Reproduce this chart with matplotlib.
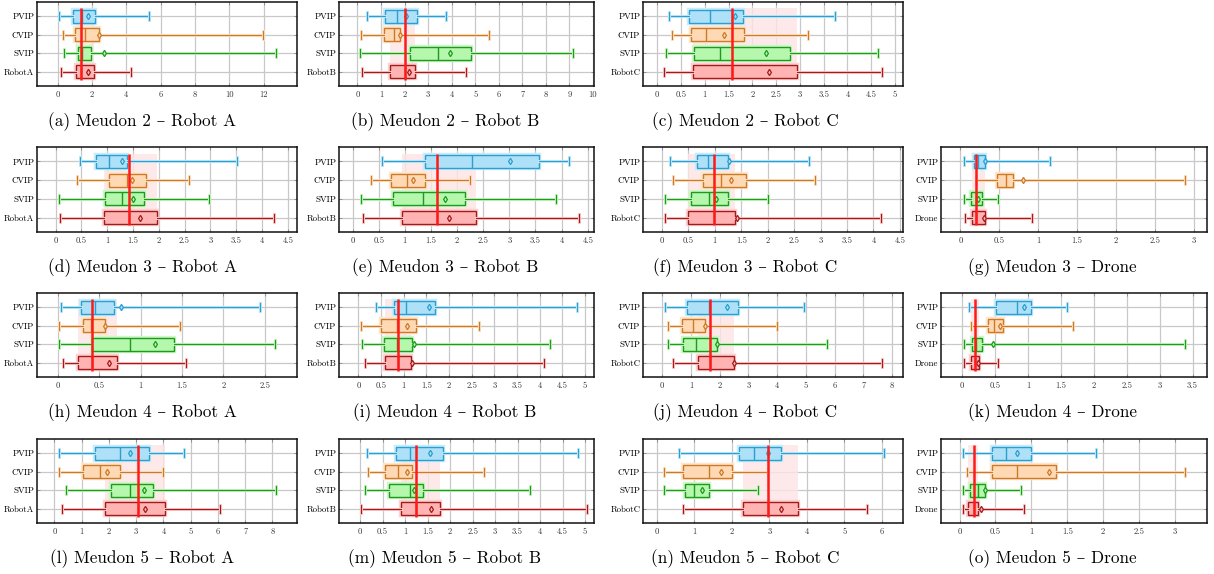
import matplotlib
matplotlib.use("Agg")
import matplotlib.pyplot as plt
import matplotlib.patheffects as pe
import numpy as np

W, H = 1214, 574

groups = ["PVIP", "CVIP", "SVIP"]
robots = ["RobotA", "RobotB", "RobotC", "RobotA", "RobotB", "RobotC", "Drone",
          "RobotA", "RobotB", "RobotC", "Drone", "RobotA", "RobotB", "RobotC", "Drone"]
captions = ["(a) Meudon 2 – Robot A", "(b) Meudon 2 – Robot B", "(c) Meudon 2 – Robot C",
            "(d) Meudon 3 – Robot A", "(e) Meudon 3 – Robot B", "(f) Meudon 3 – Robot C",
            "(g) Meudon 3 – Drone",
            "(h) Meudon 4 – Robot A", "(i) Meudon 4 – Robot B", "(j) Meudon 4 – Robot C",
            "(k) Meudon 4 – Drone",
            "(l) Meudon 5 – Robot A", "(m) Meudon 5 – Robot B", "(n) Meudon 5 – Robot C",
            "(o) Meudon 5 – Drone"]

# each row: [whisker low, Q1, median, Q3, whisker high, mean]; order PVIP, CVIP, SVIP, robot
stats_a = [[0.06, 0.87, 1.45, 2.16, 5.34, 1.75], [0.29, 1.01, 1.57, 2.39, 11.98, 2.39],
           [0.35, 1.20, 1.40, 1.94, 12.70, 2.70], [0.19, 1.07, 1.38, 2.14, 4.25, 1.75]]
stats_b = [[0.42, 1.19, 1.70, 2.54, 3.74, 2.08], [0.14, 1.15, 1.57, 1.81, 5.57, 1.81],
           [0.11, 2.24, 3.43, 4.80, 9.15, 3.91], [0.21, 1.40, 2.01, 2.45, 4.59, 2.20]]
stats_c = [[0.24, 0.67, 1.12, 1.80, 3.74, 1.64], [0.32, 0.70, 1.03, 1.82, 3.17, 1.40],
           [0.19, 0.77, 1.33, 2.79, 4.64, 2.29], [0.15, 0.75, 1.58, 2.95, 4.73, 2.36]]
stats_d = [[0.48, 0.78, 1.03, 1.38, 3.52, 1.29], [0.41, 1.03, 1.38, 1.76, 2.58, 1.49],
           [0.06, 0.96, 1.29, 1.72, 2.97, 1.51], [0.08, 0.93, 1.42, 1.97, 4.24, 1.63]]
stats_e = [[0.56, 1.39, 2.29, 3.56, 4.15, 3.02], [0.35, 0.73, 1.05, 1.39, 2.25, 1.15],
           [0.16, 0.78, 1.34, 2.15, 3.90, 1.77], [0.19, 0.94, 1.61, 2.36, 4.33, 1.85]]
stats_f = [[0.15, 0.66, 0.87, 1.24, 2.78, 1.26], [0.21, 0.78, 1.12, 1.58, 2.90, 1.31],
           [0.06, 0.54, 0.88, 1.24, 2.01, 1.02], [0.05, 0.49, 0.99, 1.39, 4.15, 1.42]]
stats_g = [[0.05, 0.18, 0.23, 0.32, 1.15, 0.32], [0.20, 0.47, 0.58, 0.68, 2.89, 0.81],
           [0.04, 0.14, 0.20, 0.28, 0.48, 0.22], [0.06, 0.15, 0.20, 0.32, 0.92, 0.30]]
stats_h = [[0.04, 0.28, 0.45, 0.68, 2.44, 0.77], [0.02, 0.30, 0.40, 0.57, 1.48, 0.57],
           [0.02, 0.42, 0.87, 1.41, 2.63, 1.17], [0.06, 0.24, 0.41, 0.72, 1.55, 0.62]]
stats_i = [[0.38, 0.79, 1.05, 1.68, 4.83, 1.56], [0.06, 0.49, 0.84, 1.27, 2.67, 1.07],
           [0.07, 0.57, 0.85, 1.19, 4.22, 1.22], [0.15, 0.58, 0.87, 1.15, 4.10, 1.19]]
stats_j = [[0.08, 0.87, 1.61, 2.62, 4.94, 2.25], [0.21, 0.70, 1.06, 1.48, 4.00, 1.49],
           [0.21, 0.72, 1.16, 1.90, 5.72, 1.90], [0.38, 1.24, 1.65, 2.50, 7.65, 2.50]]
stats_k = [[0.10, 0.52, 0.84, 1.05, 1.59, 0.94], [0.14, 0.39, 0.48, 0.62, 1.69, 0.58],
           [0.03, 0.15, 0.21, 0.31, 3.39, 0.47], [0.03, 0.13, 0.20, 0.25, 0.55, 0.24]]
stats_l = [[0.18, 1.49, 2.40, 3.46, 4.76, 2.78], [0.17, 1.03, 1.66, 2.42, 3.98, 1.92],
           [0.42, 2.06, 2.76, 3.62, 8.12, 3.29], [0.26, 1.86, 3.06, 4.05, 6.08, 3.31]]
stats_m = [[0.15, 0.80, 1.10, 1.85, 4.85, 1.55], [0.18, 0.55, 0.85, 1.15, 2.75, 1.05],
           [0.10, 0.65, 1.10, 1.40, 3.78, 1.20], [0.03, 0.90, 1.25, 1.78, 5.05, 1.58]]
stats_n = [[0.60, 2.20, 2.60, 3.30, 6.05, 2.95], [0.20, 0.70, 1.40, 2.00, 2.95, 1.70],
           [0.20, 0.75, 1.00, 1.40, 2.70, 1.20], [0.70, 2.30, 2.95, 3.75, 5.60, 3.30]]
stats_o = [[0.05, 0.45, 0.65, 1.00, 1.90, 0.80], [0.10, 0.45, 0.80, 1.35, 3.15, 1.25],
           [0.05, 0.15, 0.25, 0.35, 0.85, 0.35], [0.05, 0.12, 0.20, 0.25, 0.90, 0.30]]

all_stats = [stats_a, stats_b, stats_c, stats_d, stats_e, stats_f, stats_g, stats_h,
             stats_i, stats_j, stats_k, stats_l, stats_m, stats_n, stats_o]

tick_steps = [2, 1, 0.5, 0.5, 0.5, 0.5, 0.5, 0.5, 0.5, 1, 0.5, 1, 0.5, 1, 0.5]
tick_max = [12, 10, 5, 4.5, 4.5, 4.5, 3, 2.5, 5, 8, 3.5, 8, 5, 6, 3]
xlims = [(-1.2, 13.95), (-0.78, 10.04), (-0.3, 5.17), (-0.36, 4.68), (-0.26, 4.62),
         (-0.36, 4.56), (-0.25, 3.17), (-0.25, 2.89), (-0.43, 5.2), (-0.67, 8.38),
         (-0.32, 3.72), (-0.64, 8.9), (-0.47, 5.2), (-0.37, 6.56), (-0.26, 3.45)]

edge_cols = ["#2a9fd0", "#cc7a2a", "#1e9a1e", "#a01c1c"]
face_cols = ["#aee0f7", "#fed9b4", "#b5f7ad", "#ffb3b3"]
glow_cols = ["#c9ebfa", "#fde6cc", "#cdf7c6", "#ffd0d0"]

plt.rcParams['font.family'] = ['cmr10', 'DejaVu Serif']
plt.rcParams['axes.formatter.use_mathtext'] = True

fig = plt.figure(figsize=(W / 100, H / 100), dpi=100)

col_l = [37, 339, 643, 941]
col_r = [297, 594, 903, 1207]
row_t = [2, 147, 293, 439]
row_b = [86, 232, 377, 523]
cap_x = [142, 445, 745, 1052]
cap_y = [122, 268, 413, 559]

slots = [(0, 0), (0, 1), (0, 2),
         (1, 0), (1, 1), (1, 2), (1, 3),
         (2, 0), (2, 1), (2, 2), (2, 3),
         (3, 0), (3, 1), (3, 2), (3, 3)]

positions = [3, 2, 1, 0]

for i, (r, c) in enumerate(slots):
    l, rr, t, b = col_l[c], col_r[c], row_t[r], row_b[r]
    ax = fig.add_axes([l / W, 1 - b / H, (rr - l) / W, (b - t) / H])
    st = all_stats[i]
    bxs = []
    for s in st:
        bxs.append(dict(whislo=s[0], q1=s[1], med=s[2], q3=s[3], whishi=s[4],
                        mean=s[5], fliers=[]))
    # robot band and median line
    rob = st[3]
    ax.fill_betweenx([-0.42, 3.42], rob[1], rob[3], color="#fde4e4", alpha=0.8,
                     lw=0, zorder=1)
    res = ax.bxp(bxs, positions=positions, orientation='horizontal', widths=0.68,
                 patch_artist=True, showmeans=True, capwidths=0.42,
                 manage_ticks=False, zorder=3)
    for k in range(4):
        ec, fc, gc = edge_cols[k], face_cols[k], glow_cols[k]
        glow = [pe.Stroke(linewidth=3.2, foreground=gc), pe.Normal()]
        box = res['boxes'][k]
        box.set_facecolor(fc)
        box.set_edgecolor(ec)
        box.set_linewidth(1.0)
        box.set_path_effects(glow)
        res['medians'][k].set_color(ec)
        res['medians'][k].set_linewidth(1.0)
        for w in res['whiskers'][2 * k:2 * k + 2] + res['caps'][2 * k:2 * k + 2]:
            w.set_color(ec)
            w.set_linewidth(0.9)
            w.set_path_effects([pe.Stroke(linewidth=2.2, foreground=gc), pe.Normal()])
        m = res['means'][k]
        m.set_marker('d')
        m.set_markersize(3.2)
        m.set_markerfacecolor(fc)
        m.set_markeredgecolor(ec)
        m.set_markeredgewidth(0.9)
        m.set_zorder(5)
    ax.plot([rob[2], rob[2]], [-0.42, 3.42], color="#ff1a1a", lw=1.8, zorder=6,
            solid_capstyle='butt')

    ax.set_ylim(-0.77, 3.77)
    ax.set_xlim(*xlims[i])
    ticks = np.arange(0, tick_max[i] + 1e-9, tick_steps[i])
    ax.set_xticks(ticks)
    ax.set_xticklabels([f"{v:g}" for v in ticks], fontsize=6.2, color="#333333")
    ax.set_yticks(positions)
    ax.set_yticklabels(groups + [robots[i]], fontsize=6.4)
    ax.grid(True, color="#c8c8c8", lw=0.9, zorder=0)
    ax.set_axisbelow(True)
    ax.tick_params(axis='both', direction='in', length=2, width=0.6, color="#888888",
                   top=True, right=True, pad=3)
    ax.tick_params(axis='y', pad=2)
    for sp in ax.spines.values():
        sp.set_linewidth(1.1)
        sp.set_color("#111111")

    fig.text(cap_x[c] / W, 1 - cap_y[r] / H, captions[i], ha='center', va='center',
             fontsize=12.4)

fig.savefig("out.png", dpi=100)
